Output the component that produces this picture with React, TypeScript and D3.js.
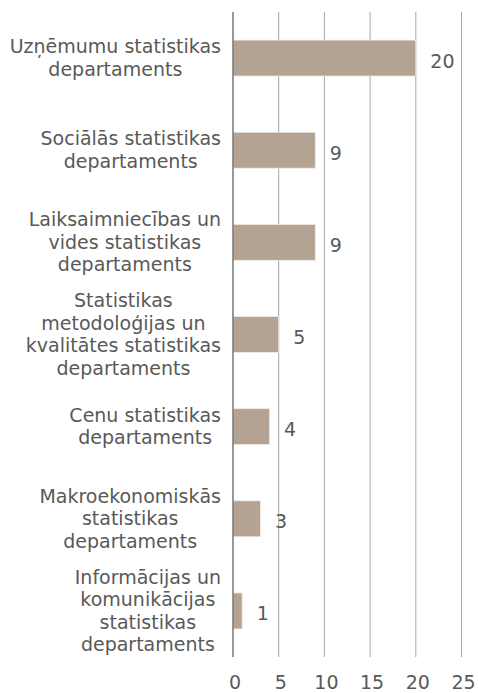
import React, { useEffect, useRef } from "react";
import * as d3 from "d3";

const categories: string[][] = [
  ["Uzņēmumu statistikas", "departaments"],
  ["Sociālās statistikas", "departaments"],
  ["Laiksaimniecības un", "vides statistikas", "departaments"],
  ["Statistikas", "metodoloģijas un", "kvalitātes statistikas", "departaments"],
  ["Cenu statistikas", "departaments"],
  ["Makroekonomiskās", "statistikas", "departaments"],
  ["Informācijas un", "komunikācijas", "statistikas", "departaments"],
];
const values: number[] = [20, 9, 9, 5, 4, 3, 1];
const ticks: number[] = [0, 5, 10, 15, 20, 25];

const W = 478;
const H = 693;
const FONT = "'DejaVu Sans', Verdana, sans-serif";
const TEXT = "#595959";

export default function App() {
  const ref = useRef<SVGSVGElement>(null);
  useEffect(() => {
    const svg = d3.select(ref.current!);
    svg.selectAll("*").remove();
    const x = d3.scaleLinear().domain([0, 25]).range([233, 461.5]);
    const y = d3
      .scaleBand<number>()
      .domain(d3.range(categories.length))
      .range([12, 657])
      .paddingInner(0.61)
      .paddingOuter(0.305);

    const g = svg.append("g");
    g.selectAll("line.grid")
      .data(ticks.filter((t) => t > 0))
      .join("line")
      .attr("x1", (d) => x(d))
      .attr("x2", (d) => x(d))
      .attr("y1", 12)
      .attr("y2", 657)
      .attr("stroke", "#a6a6a6")
      .attr("stroke-width", 1);

    g.selectAll("rect.bar")
      .data(values)
      .join("rect")
      .attr("x", x(0))
      .attr("y", (_, i) => y(i)!)
      .attr("width", (d) => x(d) - x(0))
      .attr("height", y.bandwidth())
      .attr("fill", "#b4a292")
      .attr("stroke", "#f2ece6")
      .attr("stroke-width", 0.8);

    g.append("line")
      .attr("x1", x(0))
      .attr("x2", x(0))
      .attr("y1", 12)
      .attr("y2", 657)
      .attr("stroke", "#767676")
      .attr("stroke-width", 1.5);

    g.selectAll("text.val")
      .data(values)
      .join("text")
      .attr("x", (d) => x(d) + 14.5)
      .attr("y", (_, i) => y(i)! + y.bandwidth() / 2 + 9.5)
      .attr("font-family", FONT)
      .attr("font-size", 19)
      .attr("fill", TEXT)
      .text((d) => String(d));

    g.selectAll("text.tick")
      .data(ticks)
      .join("text")
      .attr("x", (d) => x(d) + 2)
      .attr("y", 689)
      .attr("text-anchor", "middle")
      .attr("font-family", FONT)
      .attr("font-size", 19)
      .attr("fill", TEXT)
      .text((d) => String(d));

    const lh = 22.5;
    categories.forEach((lines, i) => {
      const cy = y(i)! + y.bandwidth() / 2;
      const grp = g.append("g");
      const texts = lines.map((ln, j) =>
        grp
          .append("text")
          .attr("y", cy + 6.5 + (j - (lines.length - 1) / 2) * lh)
          .attr("text-anchor", "middle")
          .attr("font-family", FONT)
          .attr("font-size", 19)
          .attr("fill", TEXT)
          .text(ln)
      );
      const maxW = d3.max(texts, (t) => (t.node() as SVGTextElement).getComputedTextLength()) || 0;
      texts.forEach((t) => t.attr("x", 221 - maxW / 2));
    });
  }, []);
  return (
    <svg
      ref={ref}
      width={W}
      height={H}
      style={{ position: "absolute", left: 0, top: 0, background: "#fff" }}
    />
  );
}
